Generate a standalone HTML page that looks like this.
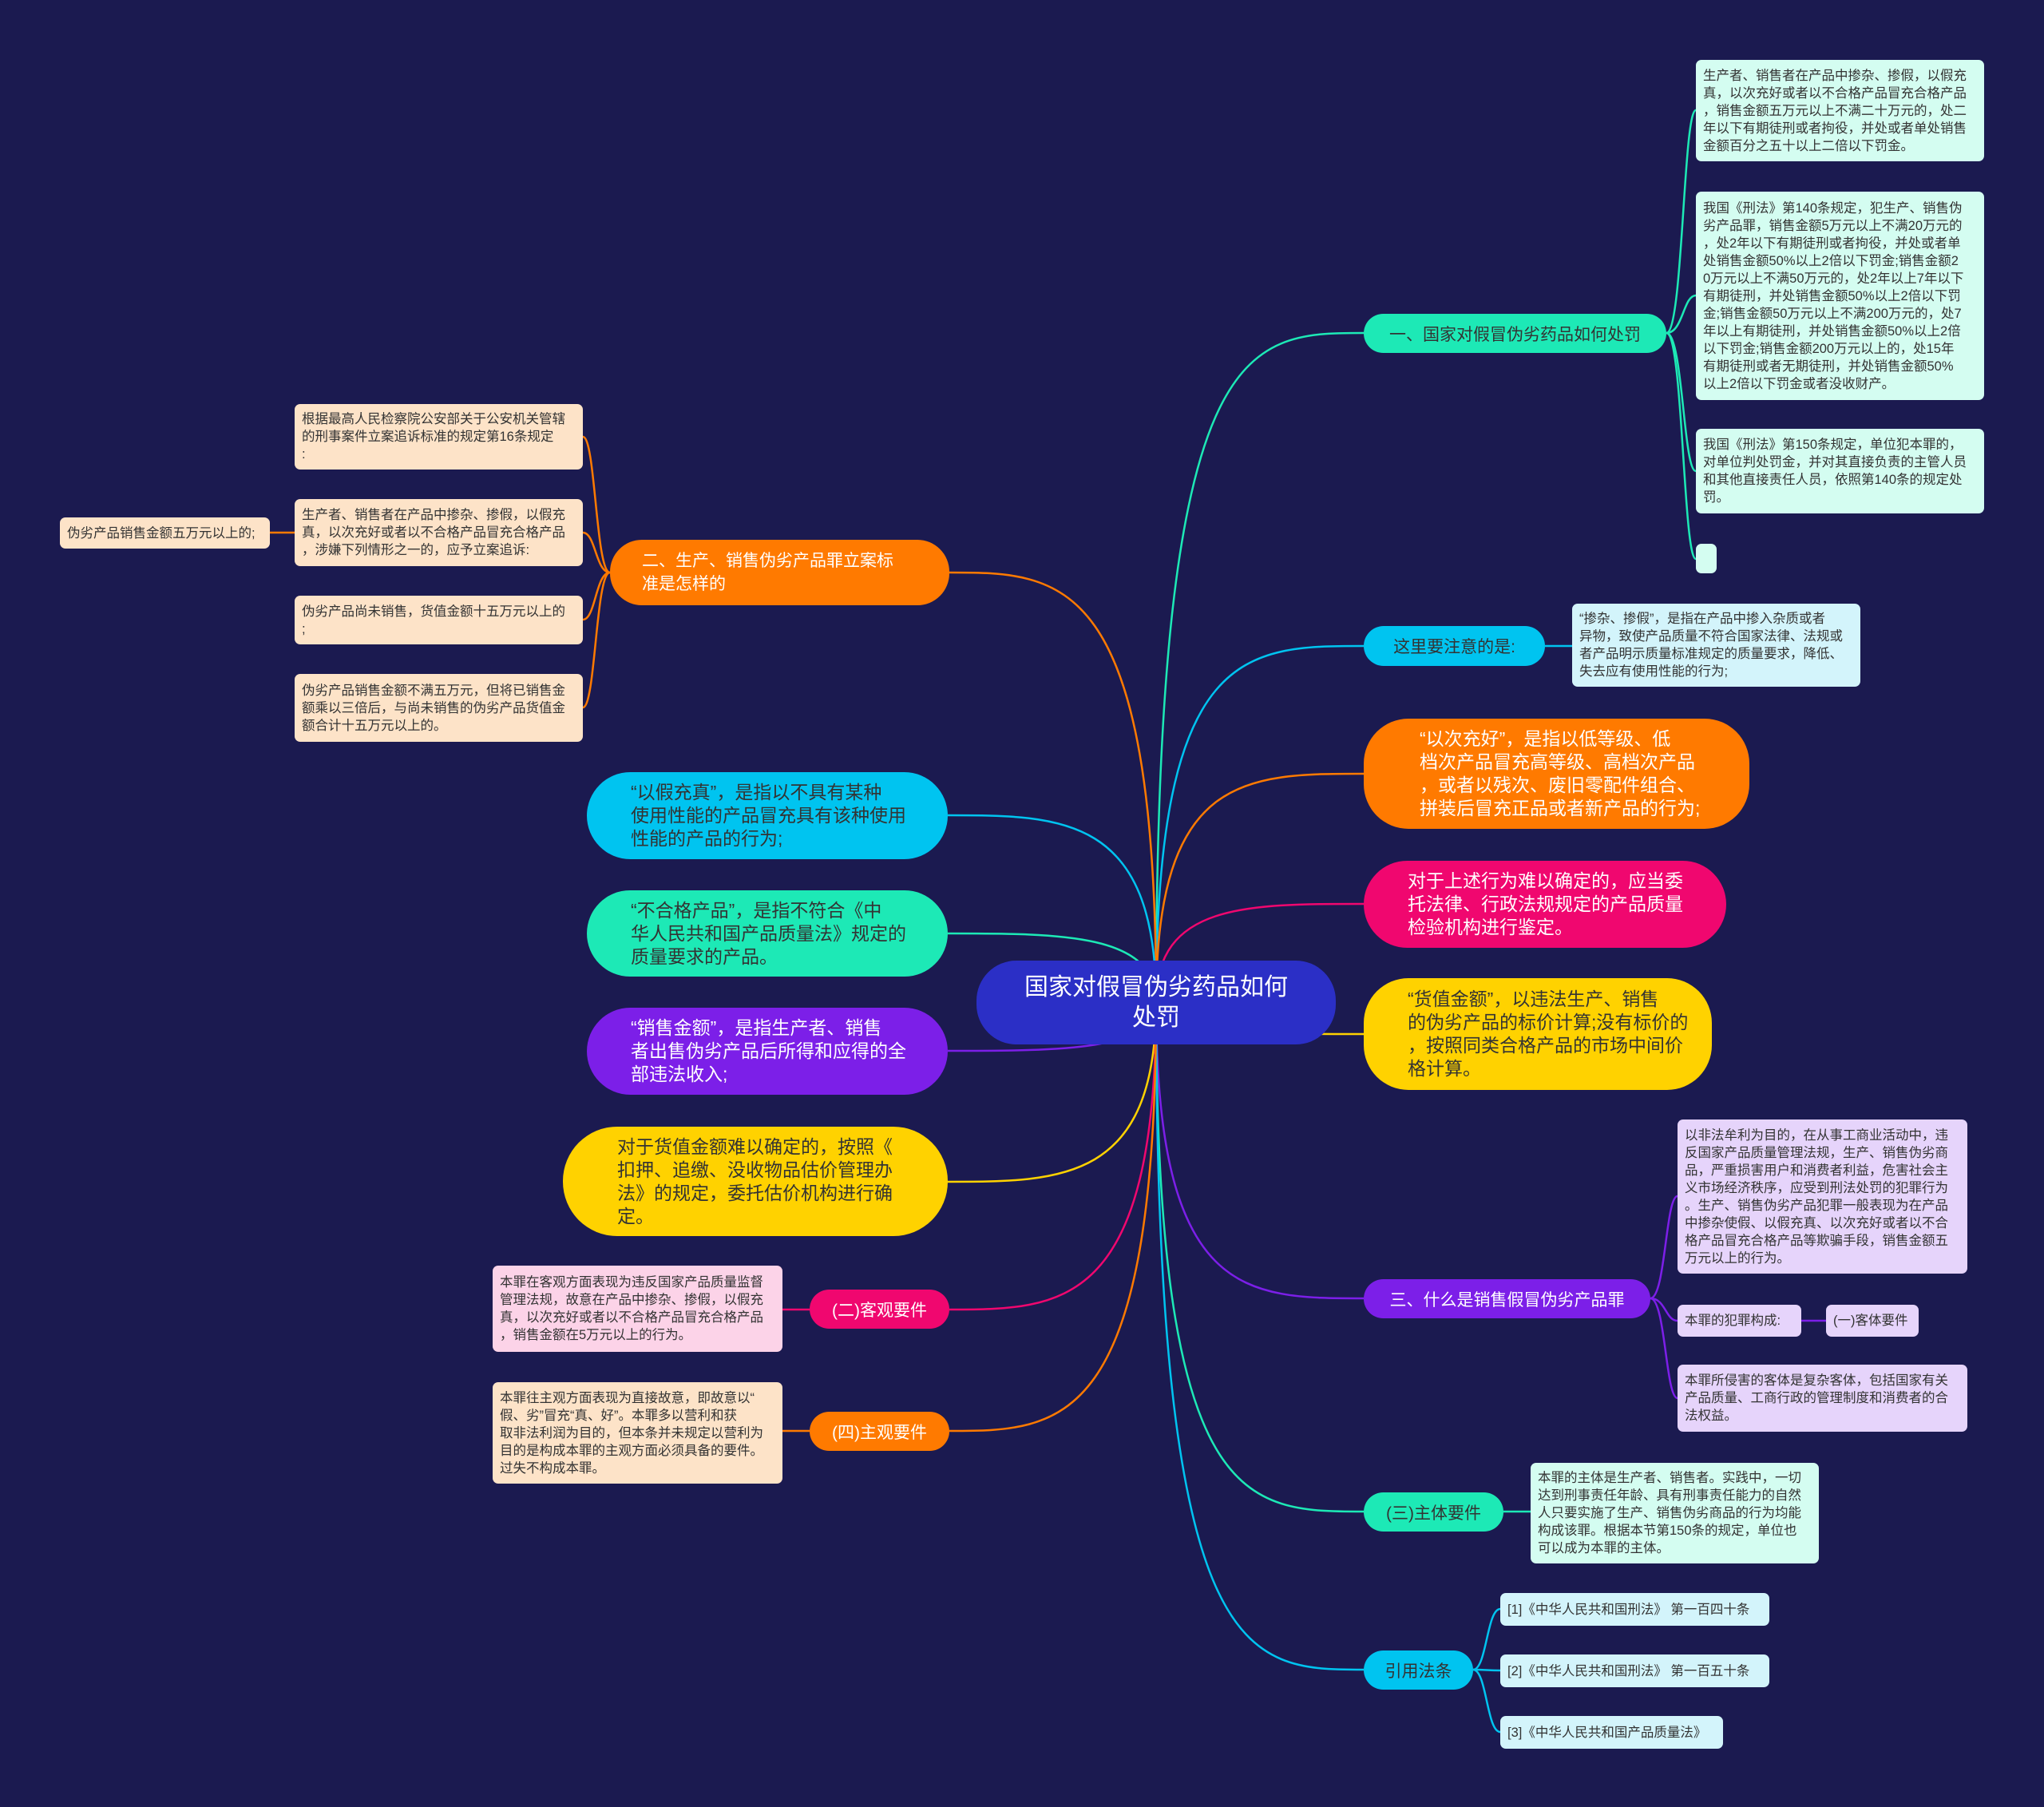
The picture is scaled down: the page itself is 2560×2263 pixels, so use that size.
<!DOCTYPE html>
<html><head><meta charset="utf-8"><style>
*{margin:0;padding:0;box-sizing:border-box}
body{width:2560px;height:2263px;background:#1b1a50;position:relative;overflow:hidden;font-family:"Liberation Sans","Noto Sans CJK SC",sans-serif}
.n{position:absolute;display:flex;align-items:center}
.pill{border-radius:30px;justify-content:center;font-size:21px;white-space:nowrap}
.big{border-radius:56px;font-size:23px;line-height:29px;padding-left:55px}
.box{border-radius:7px;font-size:16.5px;line-height:22px;padding:0 9px;color:#333;white-space:nowrap}
svg{position:absolute;left:0;top:0}
</style></head><body>
<svg width="2560" height="2263" fill="none" stroke-width="2.5">
<path d="M1448,1255 C1448,417 1560,417 1708,417" stroke="#1de9b6"/>
<path d="M1448,1255 C1448,809 1560,809 1708,809" stroke="#00c4f0"/>
<path d="M1448,1255 C1448,969 1560,969 1708,969" stroke="#ff7a00"/>
<path d="M1448,1255 C1448,1132 1560,1132 1708,1132" stroke="#f0076f"/>
<path d="M1448,1255 C1448,1295 1560,1295 1708,1295" stroke="#ffd200"/>
<path d="M1448,1255 C1448,1626 1560,1626 1708,1626" stroke="#7c1fe8"/>
<path d="M1448,1255 C1448,1893 1560,1893 1708,1893" stroke="#1de9b6"/>
<path d="M1448,1255 C1448,2091 1560,2091 1708,2091" stroke="#00c4f0"/>
<path d="M1448,1255 C1448,717 1330,717 1189,717" stroke="#ff7a00"/>
<path d="M1448,1255 C1448,1021 1330,1021 1187,1021" stroke="#00c4f0"/>
<path d="M1448,1255 C1448,1169 1330,1169 1187,1169" stroke="#1de9b6"/>
<path d="M1448,1255 C1448,1316 1330,1316 1187,1316" stroke="#7c1fe8"/>
<path d="M1448,1255 C1448,1480 1330,1480 1187,1480" stroke="#ffd200"/>
<path d="M1448,1255 C1448,1640 1330,1640 1189,1640" stroke="#f0076f"/>
<path d="M1448,1255 C1448,1792 1330,1792 1189,1792" stroke="#ff7a00"/>
<!-- R1 children -->
<g stroke="#1de9b6">
<path d="M2087,417 C2108,417 2108,138 2124,138"/>
<path d="M2087,417 C2108,417 2108,370 2124,370"/>
<path d="M2087,417 C2108,417 2108,590 2124,590"/>
<path d="M2087,417 C2108,417 2108,700 2124,700"/>
</g>
<path d="M1935,809 L1969,809" stroke="#00c4f0"/>
<g stroke="#7c1fe8">
<path d="M2067,1626 C2086,1626 2086,1498 2101,1498"/>
<path d="M2067,1626 C2086,1626 2086,1654 2101,1654"/>
<path d="M2067,1626 C2086,1626 2086,1751 2101,1751"/>
<path d="M2256,1654 L2287,1654"/>
</g>
<path d="M1883,1893 L1917,1893" stroke="#1de9b6"/>
<g stroke="#00c4f0">
<path d="M1845,2091 C1862,2091 1862,2015 1879,2015"/>
<path d="M1845,2091 C1862,2091 1862,2092 1879,2092"/>
<path d="M1845,2091 C1862,2091 1862,2169 1879,2169"/>
</g>
<g stroke="#ff7a00">
<path d="M764,717 C746,717 746,547 730,547"/>
<path d="M764,717 C746,717 746,667 730,667"/>
<path d="M764,717 C746,717 746,776 730,776"/>
<path d="M764,717 C746,717 746,886 730,886"/>
<path d="M369,667 L338,667"/>
<path d="M1014,1792 L980,1792"/>
</g>
<path d="M1014,1640 L980,1640" stroke="#f0076f"/>
</svg>

<div class="n" style="left:1223px;top:1203px;width:450px;height:105px;background:#2b2fc6;border-radius:50px;justify-content:center;text-align:center;color:#fff;font-size:30px;line-height:38px">国家对假冒伪劣药品如何<br>处罚</div>

<div class="n pill" style="left:1708px;top:393px;width:379px;height:49px;background:#1de9b6;color:#333">一、国家对假冒伪劣药品如何处罚</div>
<div class="n box" style="left:2124px;top:75px;width:361px;height:127px;background:#d4fdf1">生产者、销售者在产品中掺杂、掺假，以假充<br>真，以次充好或者以不合格产品冒充合格产品<br>，销售金额五万元以上不满二十万元的，处二<br>年以下有期徒刑或者拘役，并处或者单处销售<br>金额百分之五十以上二倍以下罚金。</div>
<div class="n box" style="left:2124px;top:240px;width:361px;height:261px;background:#d4fdf1">我国《刑法》第140条规定，犯生产、销售伪<br>劣产品罪，销售金额5万元以上不满20万元的<br>，处2年以下有期徒刑或者拘役，并处或者单<br>处销售金额50%以上2倍以下罚金;销售金额2<br>0万元以上不满50万元的，处2年以上7年以下<br>有期徒刑，并处销售金额50%以上2倍以下罚<br>金;销售金额50万元以上不满200万元的，处7<br>年以上有期徒刑，并处销售金额50%以上2倍<br>以下罚金;销售金额200万元以上的，处15年<br>有期徒刑或者无期徒刑，并处销售金额50%<br>以上2倍以下罚金或者没收财产。</div>
<div class="n box" style="left:2124px;top:537px;width:361px;height:106px;background:#d4fdf1">我国《刑法》第150条规定，单位犯本罪的，<br>对单位判处罚金，并对其直接负责的主管人员<br>和其他直接责任人员，依照第140条的规定处<br>罚。</div>
<div class="n box" style="left:2124px;top:681px;width:26px;height:37px;background:#d4fdf1"></div>

<div class="n pill" style="left:1708px;top:784px;width:227px;height:50px;background:#00c4f0;color:#333">这里要注意的是:</div>
<div class="n box" style="left:1969px;top:756px;width:361px;height:104px;background:#d3f4fb">“掺杂、掺假”，是指在产品中掺入杂质或者<br>异物，致使产品质量不符合国家法律、法规或<br>者产品明示质量标准规定的质量要求，降低、<br>失去应有使用性能的行为;</div>

<div class="n big" style="left:1708px;top:900px;width:483px;height:138px;background:#ff7a00;color:#fff;padding-left:70px">“以次充好”，是指以低等级、低<br>档次产品冒充高等级、高档次产品<br>，或者以残次、废旧零配件组合、<br>拼装后冒充正品或者新产品的行为;</div>
<div class="n big" style="left:1708px;top:1078px;width:454px;height:109px;background:#f0076f;color:#fff">对于上述行为难以确定的，应当委<br>托法律、行政法规规定的产品质量<br>检验机构进行鉴定。</div>
<div class="n big" style="left:1708px;top:1225px;width:436px;height:140px;background:#ffd200;color:#333">“货值金额”，以违法生产、销售<br>的伪劣产品的标价计算;没有标价的<br>，按照同类合格产品的市场中间价<br>格计算。</div>

<div class="n pill" style="left:1708px;top:1602px;width:359px;height:49px;background:#7c1fe8;color:#fff">三、什么是销售假冒伪劣产品罪</div>
<div class="n box" style="left:2101px;top:1402px;width:363px;height:193px;background:#e6d4fb">以非法牟利为目的，在从事工商业活动中，违<br>反国家产品质量管理法规，生产、销售伪劣商<br>品，严重损害用户和消费者利益，危害社会主<br>义市场经济秩序，应受到刑法处罚的犯罪行为<br>。生产、销售伪劣产品犯罪一般表现为在产品<br>中掺杂使假、以假充真、以次充好或者以不合<br>格产品冒充合格产品等欺骗手段，销售金额五<br>万元以上的行为。</div>
<div class="n box" style="left:2101px;top:1634px;width:155px;height:40px;background:#e6d4fb">本罪的犯罪构成:</div>
<div class="n box" style="left:2287px;top:1634px;width:116px;height:40px;background:#e6d4fb">(一)客体要件</div>
<div class="n box" style="left:2101px;top:1709px;width:363px;height:84px;background:#e6d4fb">本罪所侵害的客体是复杂客体，包括国家有关<br>产品质量、工商行政的管理制度和消费者的合<br>法权益。</div>

<div class="n pill" style="left:1708px;top:1869px;width:175px;height:49px;background:#1de9b6;color:#333">(三)主体要件</div>
<div class="n box" style="left:1917px;top:1832px;width:361px;height:126px;background:#d4fdf1">本罪的主体是生产者、销售者。实践中，一切<br>达到刑事责任年龄、具有刑事责任能力的自然<br>人只要实施了生产、销售伪劣商品的行为均能<br>构成该罪。根据本节第150条的规定，单位也<br>可以成为本罪的主体。</div>

<div class="n pill" style="left:1708px;top:2067px;width:137px;height:49px;background:#00c4f0;color:#333">引用法条</div>
<div class="n box" style="left:1879px;top:1995px;width:337px;height:41px;background:#d3f4fb">[1]《中华人民共和国刑法》 第一百四十条</div>
<div class="n box" style="left:1879px;top:2072px;width:337px;height:41px;background:#d3f4fb">[2]《中华人民共和国刑法》 第一百五十条</div>
<div class="n box" style="left:1879px;top:2149px;width:279px;height:41px;background:#d3f4fb">[3]《中华人民共和国产品质量法》</div>

<div class="n big" style="left:764px;top:676px;width:425px;height:82px;background:#ff7a00;color:#fff;border-radius:40px;font-size:21px;line-height:29px;padding-left:40px">二、生产、销售伪劣产品罪立案标<br>准是怎样的</div>
<div class="n box" style="left:369px;top:506px;width:361px;height:82px;background:#fde3c8">根据最高人民检察院公安部关于公安机关管辖<br>的刑事案件立案追诉标准的规定第16条规定<br>:</div>
<div class="n box" style="left:369px;top:625px;width:361px;height:84px;background:#fde3c8">生产者、销售者在产品中掺杂、掺假，以假充<br>真，以次充好或者以不合格产品冒充合格产品<br>，涉嫌下列情形之一的，应予立案追诉:</div>
<div class="n box" style="left:75px;top:648px;width:263px;height:39px;background:#fde3c8">伪劣产品销售金额五万元以上的;</div>
<div class="n box" style="left:369px;top:746px;width:361px;height:61px;background:#fde3c8">伪劣产品尚未销售，货值金额十五万元以上的<br>;</div>
<div class="n box" style="left:369px;top:844px;width:361px;height:85px;background:#fde3c8">伪劣产品销售金额不满五万元，但将已销售金<br>额乘以三倍后，与尚未销售的伪劣产品货值金<br>额合计十五万元以上的。</div>

<div class="n big" style="left:735px;top:967px;width:452px;height:109px;background:#00c4f0;color:#333">“以假充真”，是指以不具有某种<br>使用性能的产品冒充具有该种使用<br>性能的产品的行为;</div>
<div class="n big" style="left:735px;top:1115px;width:452px;height:108px;background:#1de9b6;color:#333">“不合格产品”，是指不符合《中<br>华人民共和国产品质量法》规定的<br>质量要求的产品。</div>
<div class="n big" style="left:735px;top:1262px;width:452px;height:109px;background:#7c1fe8;color:#fff">“销售金额”，是指生产者、销售<br>者出售伪劣产品后所得和应得的全<br>部违法收入;</div>
<div class="n big" style="left:705px;top:1411px;width:482px;height:137px;background:#ffd200;color:#333;padding-left:68px;border-radius:68px">对于货值金额难以确定的，按照《<br>扣押、追缴、没收物品估价管理办<br>法》的规定，委托估价机构进行确<br>定。</div>

<div class="n pill" style="left:1014px;top:1615px;width:175px;height:49px;background:#f0076f;color:#fff">(二)客观要件</div>
<div class="n box" style="left:617px;top:1585px;width:363px;height:108px;background:#fcd3e8">本罪在客观方面表现为违反国家产品质量监督<br>管理法规，故意在产品中掺杂、掺假，以假充<br>真，以次充好或者以不合格产品冒充合格产品<br>，销售金额在5万元以上的行为。</div>
<div class="n pill" style="left:1014px;top:1768px;width:175px;height:49px;background:#ff7a00;color:#fff">(四)主观要件</div>
<div class="n box" style="left:617px;top:1731px;width:363px;height:127px;background:#fde3c8">本罪往主观方面表现为直接故意，即故意以“<br>假、劣”冒充“真、好”。本罪多以营利和获<br>取非法利润为目的，但本条并未规定以营利为<br>目的是构成本罪的主观方面必须具备的要件。<br>过失不构成本罪。</div>
</body></html>
